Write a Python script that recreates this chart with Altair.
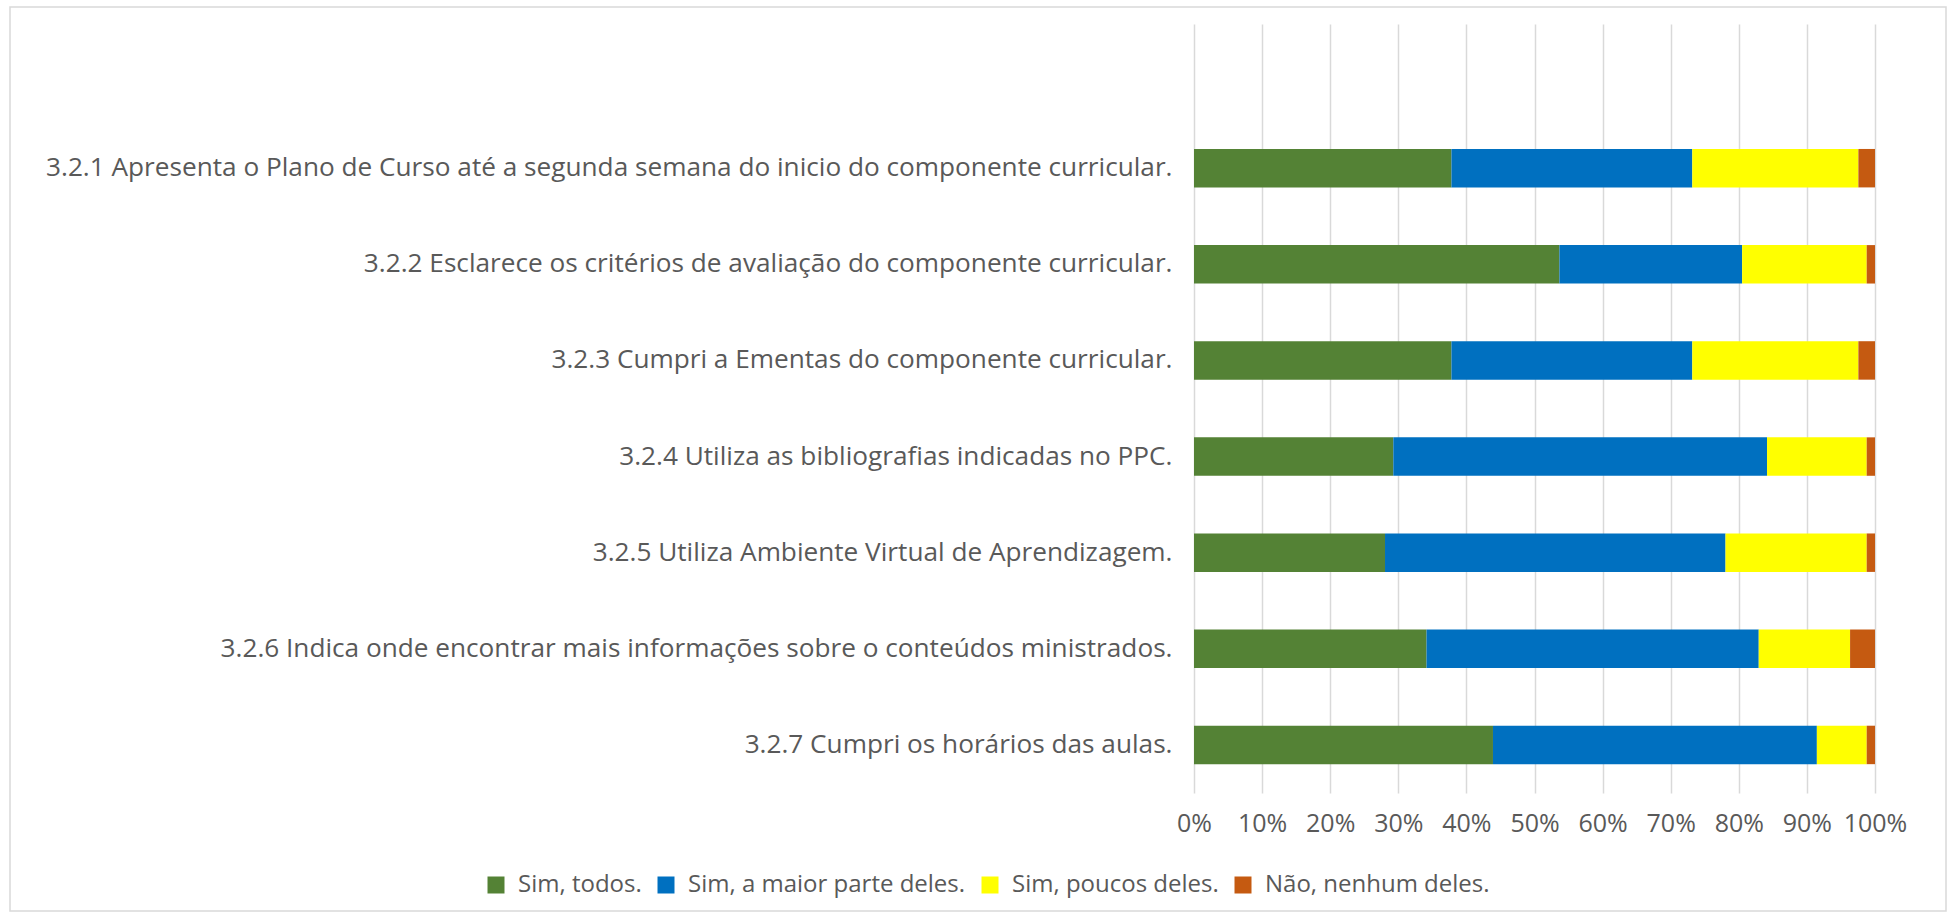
import altair as alt
import pandas as pd

categories = [
    "3.2.1 Apresenta o Plano de Curso até a segunda semana do inicio do componente curricular.",
    "3.2.2 Esclarece os critérios de avaliação do componente curricular.",
    "3.2.3 Cumpri a Ementas do componente curricular.",
    "3.2.4 Utiliza as bibliografias indicadas no PPC.",
    "3.2.5 Utiliza  Ambiente Virtual de Aprendizagem.",
    "3.2.6 Indica onde encontrar mais informações sobre o conteúdos  ministrados.",
    "3.2.7 Cumpri os horários das aulas.",
]
series = ["Sim, todos.", "Sim, a maior parte deles.", "Sim, poucos deles.", "Não, nenhum deles."]
colors = ["#548235", "#0070C0", "#FFFF00", "#C55A11"]

sim_todos = [31, 44, 31, 24, 23, 28, 36]
sim_maior = [29, 22, 29, 45, 41, 40, 39]
sim_poucos = [20, 15, 20, 12, 17, 11, 6]
nao_nenhum = [2, 1, 2, 1, 1, 3, 1]

rows = []
for i, c in enumerate(categories):
    for j, (s, vals) in enumerate(zip(series, [sim_todos, sim_maior, sim_poucos, nao_nenhum])):
        rows.append({"cat": c, "serie": s, "ordem": j, "valor": vals[i]})
df = pd.DataFrame(rows)

TEXT = "#595959"
FONT = "Open Sans"
y_domain = [" "] + categories

bars = alt.Chart(df).mark_bar().encode(
    y=alt.Y("cat:N", sort=y_domain,
            scale=alt.Scale(domain=y_domain, paddingInner=0.6, paddingOuter=0.3),
            axis=alt.Axis(title=None, domain=False, ticks=False, grid=False,
                          labelPadding=22, labelFontSize=26.2, labelColor=TEXT,
                          labelFont=FONT, labelLimit=1500)),
    x=alt.X("valor:Q", stack="normalize",
            scale=alt.Scale(domain=[0, 1], nice=False),
            axis=alt.Axis(title=None, format="%", values=[i / 10 for i in range(11)],
                          labelOverlap=False, labelFlush=False,
                          domain=False, ticks=False, grid=True, gridColor="#D9D9D9",
                          gridWidth=1.5, labelPadding=18, labelFontSize=25,
                          labelColor=TEXT, labelFont=FONT)),
    color=alt.Color("serie:N", scale=alt.Scale(domain=series, range=colors),
                    legend=alt.Legend(title=None, orient="none", legendX=-710, legendY=849,
                                      direction="horizontal", columns=4,
                                      symbolType="square", symbolSize=289,
                                      symbolStrokeWidth=0, labelFontSize=24,
                                      labelColor=TEXT, labelFont=FONT,
                                      labelOffset=10, columnPadding=12,
                                      labelLimit=500)),
    order=alt.Order("ordem:Q"),
)

border = alt.Chart(alt.Data(values=[{}])).mark_rect(
    fill=None, stroke="#D9D9D9", strokeWidth=1.5
).encode(
    x=alt.value(-1184), x2=alt.value(752), y=alt.value(-17), y2=alt.value(887)
)

chart = alt.layer(border, bars).properties(
    width=681, height=769,
    autosize=alt.AutoSizeParams(type="none"),
    padding={"left": 1194, "top": 24, "right": 73, "bottom": 122},
    background="white",
).configure_view(stroke=None)

chart.save("out.html", embed_options={"renderer": "svg", "actions": False})
